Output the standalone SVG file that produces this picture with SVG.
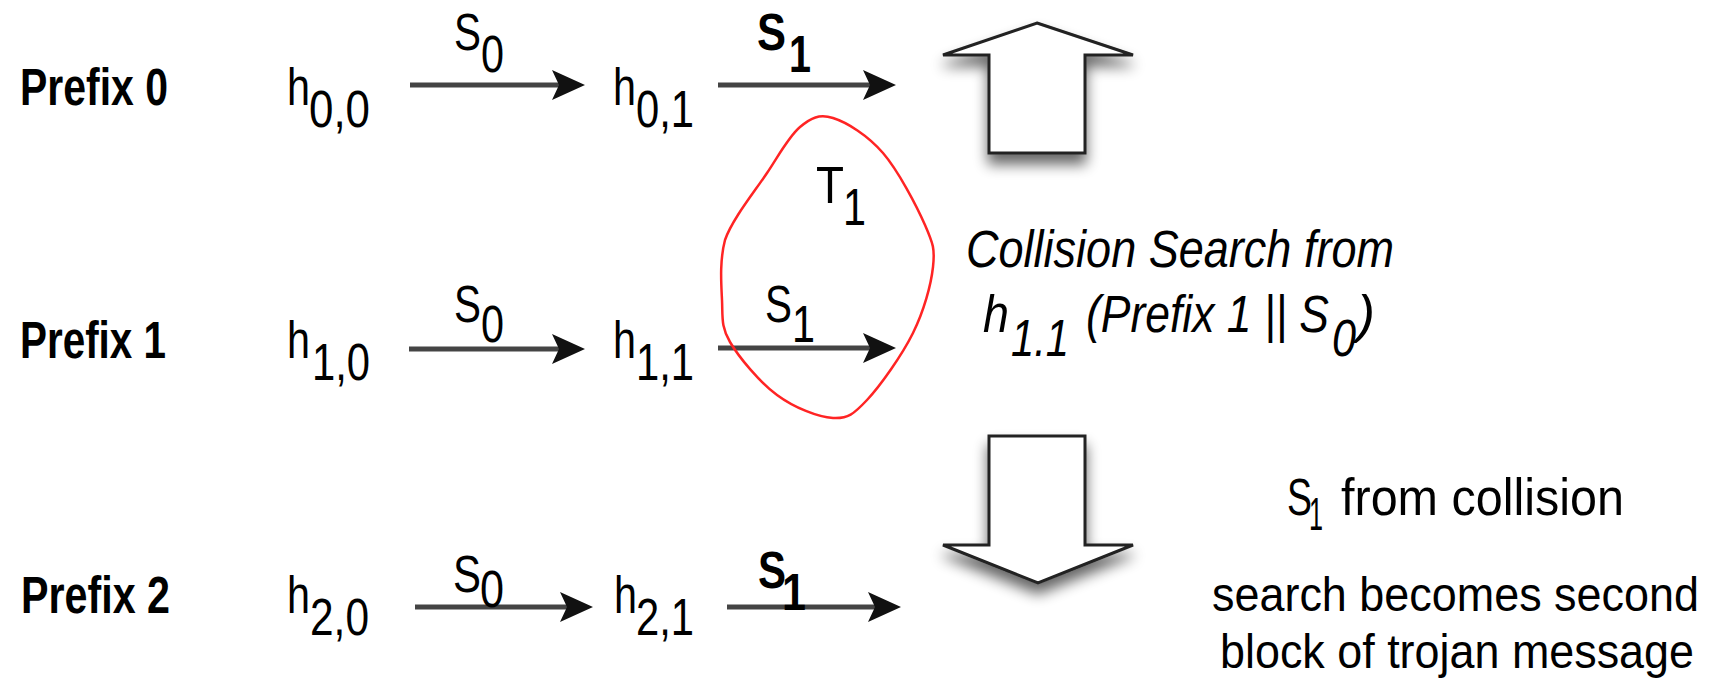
<svg xmlns="http://www.w3.org/2000/svg" width="1717" height="687" viewBox="0 0 1717 687">
<style>
.t{font-family:"Liberation Sans",Arial,Helvetica,sans-serif;fill:#000;font-size:51px}
.b{font-weight:bold}
.i{font-style:italic}
.r{font-size:48px}
.edge{stroke:#444;stroke-width:5;fill:none;marker-end:url(#ah)}
.blk{fill:#fff;stroke:#222;stroke-width:3;stroke-linejoin:miter;filter:url(#sh)}
.loop{fill:none;stroke:#ff2424;stroke-width:2.5;stroke-linejoin:round}
</style>
<defs>
<marker id="ah" markerUnits="userSpaceOnUse" markerWidth="34" markerHeight="32" viewBox="0 0 34 32" refX="22" refY="16" orient="auto">
<path d="M0,1 L33,16 L0,31 L7,16 Z" fill="#111"/>
</marker>
<filter id="sh" x="-40%" y="-40%" width="180%" height="190%">
<feGaussianBlur in="SourceAlpha" stdDeviation="7"/>
<feOffset dy="10" result="b"/>
<feComponentTransfer><feFuncA type="linear" slope="0.6"/></feComponentTransfer>
<feMerge><feMergeNode/><feMergeNode in="SourceGraphic"/></feMerge>
</filter>
</defs>
<rect width="1717" height="687" fill="#fff"/>

<g id="connectors">
<line class="edge" x1="410" y1="85" x2="574" y2="85"/>
<line class="edge" x1="718" y1="85" x2="885" y2="85"/>
<line class="edge" x1="409" y1="349" x2="574" y2="349"/>
<line class="edge" x1="718" y1="348" x2="885" y2="348"/>
<line class="edge" x1="415" y1="607" x2="582" y2="607"/>
<line class="edge" x1="727" y1="607" x2="890" y2="607"/>
</g>

<g id="prefix0"><text class="t b" x="20" y="105" textLength="148" lengthAdjust="spacingAndGlyphs">Prefix 0</text></g>
<g id="prefix1"><text class="t b" x="20" y="358" textLength="146" lengthAdjust="spacingAndGlyphs">Prefix 1</text></g>
<g id="prefix2"><text class="t b" x="21" y="613" textLength="149" lengthAdjust="spacingAndGlyphs">Prefix 2</text></g>

<g id="h00"><text class="t" x="287" y="105" textLength="23" lengthAdjust="spacingAndGlyphs">h</text><text class="t" x="309" y="127" textLength="61" lengthAdjust="spacingAndGlyphs">0,0</text></g>
<g id="h01"><text class="t" x="613" y="105" textLength="23" lengthAdjust="spacingAndGlyphs">h</text><text class="t" x="636" y="127" textLength="58" lengthAdjust="spacingAndGlyphs">0,1</text></g>
<g id="h10"><text class="t" x="287" y="358" textLength="23" lengthAdjust="spacingAndGlyphs">h</text><text class="t" x="312" y="380" textLength="58" lengthAdjust="spacingAndGlyphs">1,0</text></g>
<g id="h11"><text class="t" x="613" y="358" textLength="23" lengthAdjust="spacingAndGlyphs">h</text><text class="t" x="636" y="380" textLength="58" lengthAdjust="spacingAndGlyphs">1,1</text></g>
<g id="h20"><text class="t" x="287" y="613" textLength="23" lengthAdjust="spacingAndGlyphs">h</text><text class="t" x="310" y="635" textLength="59" lengthAdjust="spacingAndGlyphs">2,0</text></g>
<g id="h21"><text class="t" x="614" y="613" textLength="23" lengthAdjust="spacingAndGlyphs">h</text><text class="t" x="636" y="635" textLength="58" lengthAdjust="spacingAndGlyphs">2,1</text></g>

<g id="label-s0-r0"><text class="t" x="454" y="50" textLength="27" lengthAdjust="spacingAndGlyphs">S</text><text class="t" x="481" y="72" textLength="23" lengthAdjust="spacingAndGlyphs">0</text></g>
<g id="label-s1-r0"><text class="t b" x="757" y="50" textLength="29" lengthAdjust="spacingAndGlyphs">S</text><text class="t b" x="789" y="72" textLength="22" lengthAdjust="spacingAndGlyphs">1</text></g>
<g id="label-s0-r1"><text class="t" x="454" y="322" textLength="27" lengthAdjust="spacingAndGlyphs">S</text><text class="t" x="481" y="342" textLength="23" lengthAdjust="spacingAndGlyphs">0</text></g>
<g id="label-s1-r1"><text class="t" x="765" y="322" textLength="27" lengthAdjust="spacingAndGlyphs">S</text><text class="t" x="792" y="342" textLength="23" lengthAdjust="spacingAndGlyphs">1</text></g>
<g id="label-s0-r2"><text class="t" x="453" y="592" textLength="28" lengthAdjust="spacingAndGlyphs">S</text><text class="t" x="480" y="607" textLength="24" lengthAdjust="spacingAndGlyphs">0</text></g>
<g id="label-s1-r2"><text class="t b" x="758" y="588" textLength="28" lengthAdjust="spacingAndGlyphs">S</text><text class="t b" x="782" y="610" textLength="24" lengthAdjust="spacingAndGlyphs">1</text></g>

<g id="collision-loop">
<path class="loop" d="M833,118 C846.8,122.3 867.7,135.2 883,153 C898.3,170.8 916.7,206 925,225 C933.3,244 935,249 933,267 C931,285 924,310.8 913,333 C902,355.2 880.3,385.8 867,400 C853.7,414.2 848,418.8 833,418 C818,417.2 794.2,407.7 777,395 C759.8,382.3 739.2,357.8 730,342 C720.8,326.2 722.8,317 722,300 C721.2,283 719.5,261.2 725,240 C732.5,218.8 754.5,191.8 767,173 C779.5,154.2 789,136.2 800,127 C811,117.8 819.2,113.7 833,118 Z"/>
<text class="t" x="816" y="203" textLength="28" lengthAdjust="spacingAndGlyphs">T</text><text class="t" x="843" y="225" textLength="23" lengthAdjust="spacingAndGlyphs">1</text>
</g>

<g id="up-arrow"><path class="blk" d="M1037,23 L1133,55 L1085,55 L1085,153 L989,153 L989,55 L943,55 Z"/></g>
<g id="down-arrow"><path class="blk" d="M989,436 L1085,436 L1085,545 L1133,545 L1038,583 L943,545 L989,545 Z"/></g>

<g id="collision-note">
<text class="t i" x="966" y="267" textLength="428" lengthAdjust="spacingAndGlyphs">Collision Search from</text>
<text class="t i" x="983" y="332" textLength="26" lengthAdjust="spacingAndGlyphs">h</text>
<text class="t i" x="1011" y="356" textLength="58" lengthAdjust="spacingAndGlyphs">1.1</text>
<text class="t i" x="1086" y="332" textLength="243" lengthAdjust="spacingAndGlyphs">(Prefix 1 || S</text>
<text class="t i" x="1332" y="356" textLength="24" lengthAdjust="spacingAndGlyphs">0</text>
<text class="t i" x="1357" y="332" textLength="18" lengthAdjust="spacingAndGlyphs">)</text>
</g>

<g id="result-note">
<text class="t" x="1287" y="515" style="font-size:52px" textLength="25" lengthAdjust="spacingAndGlyphs">S</text>
<text class="t" x="1309" y="530" style="font-size:46px" textLength="14" lengthAdjust="spacingAndGlyphs">1</text>
<text class="t" x="1341" y="515" style="font-size:52px" textLength="283" lengthAdjust="spacingAndGlyphs">from collision</text>
<text class="t r" x="1212" y="611" textLength="487" lengthAdjust="spacingAndGlyphs">search becomes second</text>
<text class="t r" x="1220" y="668" textLength="474" lengthAdjust="spacingAndGlyphs">block of trojan message</text>
</g>
</svg>
